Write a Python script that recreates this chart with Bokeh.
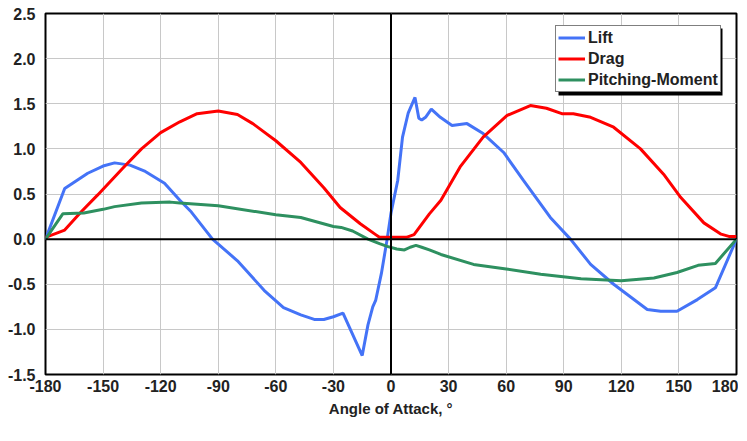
from bokeh.plotting import figure
from bokeh.models import (FixedTicker, Span, Legend, LegendItem, Range1d, BoxAnnotation)
from bokeh.embed import file_html
from bokeh.resources import INLINE

# ---- data ----
lift_x = [-180, -170, -158, -150, -144, -136, -128, -118, -110, -104, -93, -80, -66, -56, -47, -40, -35, -30, -25,
          -15, -12, -9.5, -8, -5, -2, 0, 3.5, 6, 9, 12.5, 14.5, 16, 18, 21, 25.7, 31.8, 39.6, 48, 58.7, 69, 83, 93.5,
          104, 116, 133.5, 140.5, 149, 159.6, 169, 180]
lift_y = [0.0, 0.56, 0.73, 0.81, 0.845, 0.82, 0.75, 0.62, 0.43, 0.30, 0.0, -0.24, -0.57, -0.76, -0.84, -0.89, -0.89,
          -0.86, -0.82, -1.29, -0.95, -0.75, -0.68, -0.38, 0.0, 0.29, 0.65, 1.13, 1.40, 1.57, 1.34, 1.32, 1.35, 1.44,
          1.35, 1.26, 1.28, 1.17, 0.96, 0.65, 0.24, 0.0, -0.28, -0.50, -0.78, -0.80, -0.80, -0.67, -0.54, 0.0]

drag_x = [-180, -170, -161.5, -152.8, -140, -130, -120, -110, -101, -90, -80, -72, -60, -47, -35, -26.5, -16, -8, -6,
          8, 12, 20, 26, 36, 48, 60.5, 72.6, 81, 89, 95, 104, 116, 130, 142, 151, 163, 172, 176, 180]
drag_y = [0.02, 0.10, 0.30, 0.49, 0.78, 1.00, 1.18, 1.30, 1.39, 1.42, 1.38, 1.28, 1.09, 0.85, 0.57, 0.35, 0.17, 0.05,
          0.02, 0.02, 0.05, 0.28, 0.43, 0.80, 1.13, 1.37, 1.48, 1.45, 1.39, 1.39, 1.35, 1.24, 1.00, 0.72, 0.46, 0.18,
          0.055, 0.03, 0.03]

pm_x = [-180, -171, -160, -150, -144, -130, -115, -110, -90, -60, -47, -30, -26, -20, -12, -6, -2, 3, 7, 10, 13, 16,
        20, 26, 43, 60, 78, 99, 120, 137, 149, 160, 169, 180]
pm_y = [0.0, 0.28, 0.29, 0.33, 0.36, 0.40, 0.41, 0.40, 0.37, 0.27, 0.24, 0.14, 0.13, 0.09, 0.0, -0.05, -0.08, -0.11,
        -0.12, -0.09, -0.07, -0.09, -0.12, -0.17, -0.28, -0.33, -0.39, -0.44, -0.46, -0.43, -0.37, -0.29, -0.27, 0.0]

x_ticks = [-180, -150, -120, -90, -60, -30, 0, 30, 60, 90, 120, 150, 180]
x_tick_labels = ["-180", "-150", "-120", "-90", "-60", "-30", "0", "30", "60", "90", "120", "150", "180"]
y_ticks = [-1.5, -1.0, -0.5, 0.0, 0.5, 1.0, 1.5, 2.0, 2.5]
y_tick_labels = ["-1.5", "-1.0", "-0.5", "0.0", "0.5", "1.0", "1.5", "2.0", "2.5"]
series_names = ["Lift", "Drag", "Pitching-Moment"]
series_colors = ["#4473f7", "#ff0000", "#2e9060"]

FONT = "Liberation Sans"

p = figure(frame_width=691, frame_height=361, output_backend="svg", toolbar_location=None,
           x_range=Range1d(-180, 180), y_range=Range1d(-1.5, 2.5),
           min_border_left=45, min_border_right=2, min_border_top=13, min_border_bottom=52)
p.background_fill_color = "white"
p.border_fill_color = "white"
p.outline_line_color = "black"
p.outline_line_width = 2

p.xgrid.ticker = FixedTicker(ticks=x_ticks)
p.ygrid.ticker = FixedTicker(ticks=y_ticks)
for g in (p.xgrid, p.ygrid):
    g.grid_line_color = "#c8c8c8"
    g.grid_line_width = 1

p.xaxis.ticker = FixedTicker(ticks=x_ticks)
p.yaxis.ticker = FixedTicker(ticks=y_ticks)
p.xaxis.major_label_overrides = {t: l for t, l in zip(x_ticks, x_tick_labels)}
p.yaxis.major_label_overrides = {t: l for t, l in zip(y_ticks, y_tick_labels)}
for ax in (p.xaxis, p.yaxis):
    ax.axis_line_color = None
    ax.major_tick_line_color = None
    ax.minor_tick_line_color = None
    ax.major_tick_out = 0
    ax.major_tick_in = 0
    ax.major_label_text_font = FONT
    ax.major_label_text_font_style = "bold"
    ax.major_label_text_font_size = "16px"
    ax.major_label_text_color = "#222222"
p.yaxis.major_label_standoff = 10
p.xaxis.major_label_standoff = 5
p.xaxis.axis_label = "Angle of Attack, °"
p.xaxis.axis_label_text_font = FONT
p.xaxis.axis_label_text_font_style = "bold"
p.xaxis.axis_label_text_font_size = "15px"
p.xaxis.axis_label_text_color = "#222222"
p.xaxis.axis_label_standoff = 5

p.add_layout(Span(location=0, dimension="width", line_color="black", line_width=2))
p.add_layout(Span(location=0, dimension="height", line_color="black", line_width=2))

r_lift = p.line(lift_x, lift_y, line_color=series_colors[0], line_width=3)
r_drag = p.line(drag_x, drag_y, line_color=series_colors[1], line_width=3)
r_pm = p.line(pm_x, pm_y, line_color=series_colors[2], line_width=3)

# legend shadow (screen units relative to frame)
shadow = BoxAnnotation(left=513, right=677, bottom=279, top=346,
                       left_units="screen", right_units="screen", top_units="screen", bottom_units="screen",
                       fill_color="black", fill_alpha=1.0, line_color=None)
p.add_layout(shadow)

legend = Legend(items=[LegendItem(label=series_names[0], renderers=[r_lift]),
                       LegendItem(label=series_names[1], renderers=[r_drag]),
                       LegendItem(label=series_names[2], renderers=[r_pm])],
                location=(510, 282))
legend.border_line_color = "black"
legend.border_line_width = 1
legend.background_fill_color = "white"
legend.background_fill_alpha = 1.0
legend.label_text_font = FONT
legend.label_text_font_style = "bold"
legend.label_text_font_size = "16px"
legend.label_text_color = "#222222"
legend.glyph_width = 27
legend.glyph_height = 19
legend.label_height = 19
legend.label_standoff = 3
legend.spacing = 2
legend.padding = 2
legend.margin = 0
p.add_layout(legend, "center")

open("out.html", "w").write(file_html(p, INLINE))
